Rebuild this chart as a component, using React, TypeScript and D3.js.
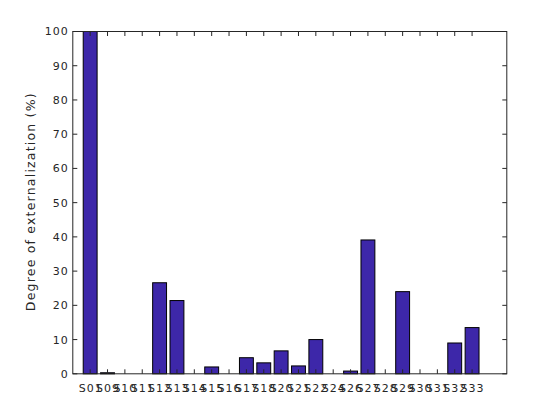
import React from "react";
import * as d3 from "d3";

const categories = ["S01","S09","S10","S11","S12","S13","S14","S15","S16","S17","S18","S20","S21","S22","S24","S26","S27","S28","S29","S30","S31","S32","S33"];
const values = [100, 0.3, 0, 0, 26.6, 21.4, 0, 2.0, 0, 4.7, 3.2, 6.7, 2.3, 10.0, 0, 0.8, 39.1, 0, 24.0, 0, 0, 9.0, 13.5];
const yTicks = [0, 10, 20, 30, 40, 50, 60, 70, 80, 90, 100];
const yLabel = "Degree of externalization (%)";

const W = 560, H = 420;
const left = 72.8, right = 506.8, top = 31.5, bottom = 373.8;
const axisColor = "#262626";
const font = "DejaVu Sans, sans-serif";
const tickLS = 1.0;
const labelLS = 1.2;

export default function App() {
  const x = d3.scaleLinear().domain([0, categories.length + 2]).range([left, right]);
  const y = d3.scaleLinear().domain([0, 100]).range([bottom, top]);
  const bw = 0.8;
  const tickLen = 4.5;
  return (
    <svg width={W} height={H} style={{ position: "absolute", left: 0, top: 0, background: "#fff" }}>
      <rect x={0} y={0} width={W} height={H} fill="#fff" />
      {values.map((v, i) => {
        const x0 = x(i + 1 - bw / 2), x1 = x(i + 1 + bw / 2);
        const yv = y(v);
        return (
          <rect key={i} x={x0} y={yv} width={x1 - x0} height={Math.max(0, y(0) - yv)}
            fill="#3d27a9" stroke="#000" strokeWidth={1} />
        );
      })}
      <rect x={left} y={top} width={right - left} height={bottom - top} fill="none" stroke={axisColor} strokeWidth={1} />
      {yTicks.map((t) => (
        <g key={t}>
          <line x1={left} x2={left + tickLen} y1={y(t)} y2={y(t)} stroke={axisColor} />
          <line x1={right} x2={right - tickLen} y1={y(t)} y2={y(t)} stroke={axisColor} />
          <text x={left - 5 + tickLS} y={y(t)} dy="0.36em" textAnchor="end" fontFamily={font} fontSize={11}
            letterSpacing={tickLS} fill={axisColor}>{t}</text>
        </g>
      ))}
      {categories.map((c, i) => (
        <g key={c}>
          <line x1={x(i + 1)} x2={x(i + 1)} y1={bottom} y2={bottom - tickLen} stroke={axisColor} />
          <line x1={x(i + 1)} x2={x(i + 1)} y1={top} y2={top + tickLen} stroke={axisColor} />
          <text x={x(i + 1) + tickLS / 2} y={391.5} textAnchor="middle" fontFamily={font} fontSize={11}
            letterSpacing={tickLS} fill={axisColor}>{c}</text>
        </g>
      ))}
      <text transform={`translate(${35},${(top + bottom) / 2 - 1}) rotate(-90)`} textAnchor="middle" fontFamily={font} fontSize={12.5}
        letterSpacing={labelLS} fill={axisColor}>{yLabel}</text>
    </svg>
  );
}
